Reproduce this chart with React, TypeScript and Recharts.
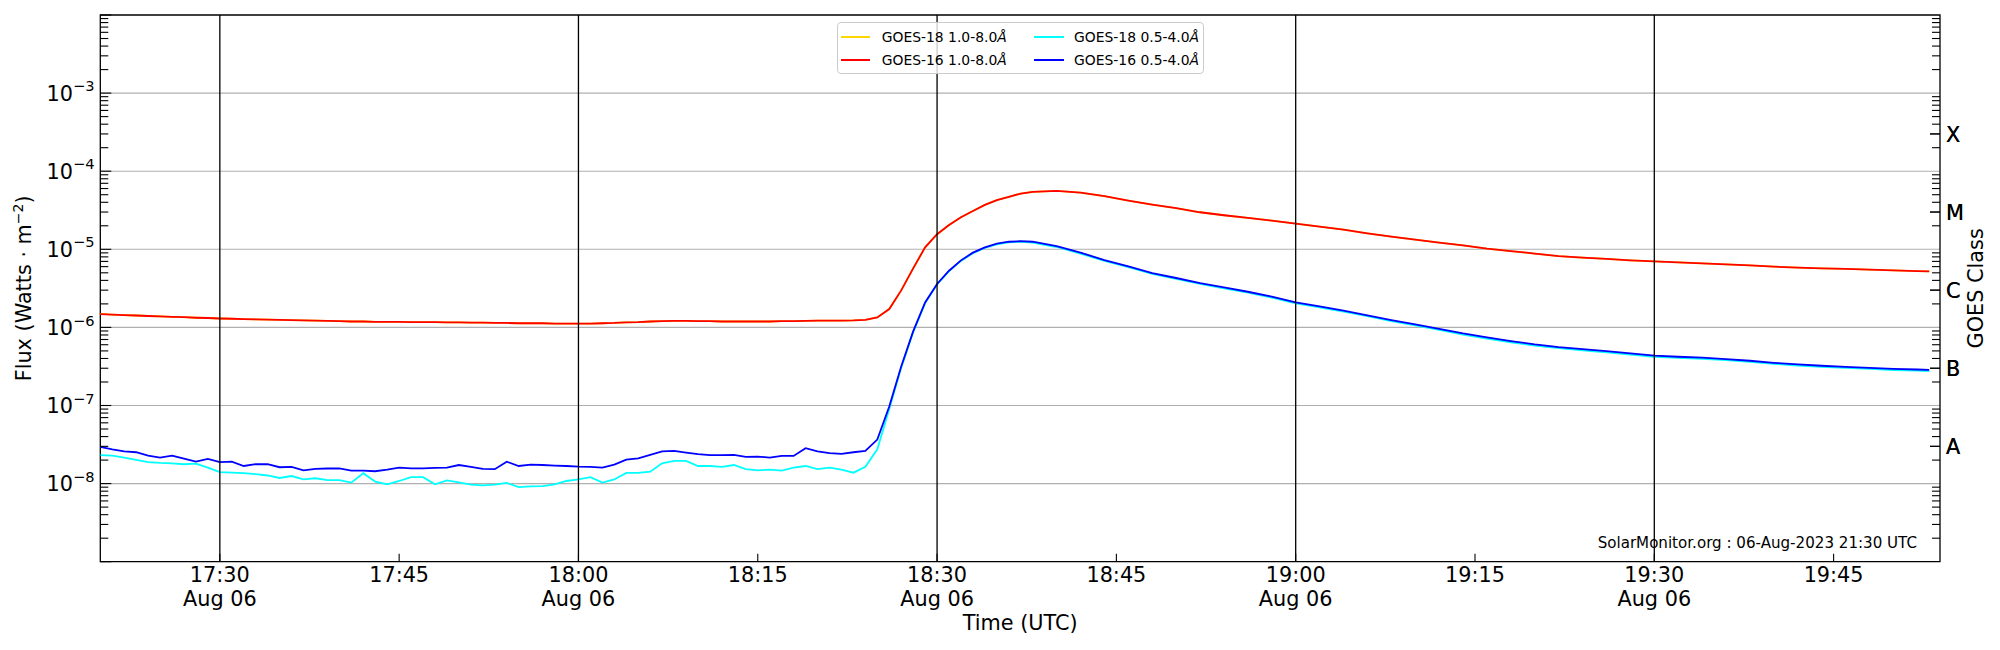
import React from 'react';
import { LineChart, Line, XAxis, YAxis, CartesianGrid, ReferenceLine, ReferenceArea } from 'recharts';

// minutes after 17:20 UTC, 06-Aug-2023
const minutes = [
  0, 1, 2, 3, 4, 5, 6, 7, 8, 9, 10, 11, 12, 13, 14, 15, 16, 17, 18, 19,
  20, 21, 22, 23, 24, 25, 26, 27, 28, 29, 30, 31, 32, 33, 34, 35, 36, 37, 38, 39,
  40, 41, 42, 43, 44, 45, 46, 47, 48, 49, 50, 51, 52, 53, 54, 55, 56, 57, 58, 59,
  60, 61, 62, 63, 64, 65, 66, 67, 68, 69, 70, 71, 72, 73, 74, 75, 76, 77,
  78, 80, 82, 84, 86, 88, 90, 92, 94, 96, 98, 100, 102, 104, 106, 108, 110, 112, 114, 116,
  118, 120, 122, 124, 126, 128, 130, 132, 134, 136, 138, 140, 142, 144, 146, 148, 150, 152, 153,
];

const goes16Long = [
  1.48e-6, 1.46e-6, 1.44e-6, 1.42e-6, 1.40e-6, 1.38e-6, 1.36e-6, 1.35e-6, 1.33e-6, 1.32e-6,
  1.30e-6, 1.29e-6, 1.28e-6, 1.27e-6, 1.26e-6, 1.25e-6, 1.24e-6, 1.23e-6, 1.22e-6, 1.21e-6,
  1.20e-6, 1.19e-6, 1.19e-6, 1.18e-6, 1.18e-6, 1.18e-6, 1.17e-6, 1.17e-6, 1.17e-6, 1.16e-6,
  1.16e-6, 1.15e-6, 1.15e-6, 1.14e-6, 1.14e-6, 1.13e-6, 1.13e-6, 1.13e-6, 1.12e-6, 1.12e-6,
  1.12e-6, 1.12e-6, 1.13e-6, 1.14e-6, 1.16e-6, 1.17e-6, 1.19e-6, 1.20e-6, 1.21e-6, 1.21e-6,
  1.20e-6, 1.20e-6, 1.19e-6, 1.19e-6, 1.19e-6, 1.19e-6, 1.19e-6, 1.20e-6, 1.20e-6, 1.21e-6,
  1.22e-6, 1.22e-6, 1.22e-6, 1.23e-6, 1.25e-6, 1.34e-6, 1.72e-6, 2.98e-6, 5.70e-6, 1.06e-5,
  1.56e-5, 2.05e-5, 2.57e-5, 3.10e-5, 3.70e-5, 4.25e-5, 4.70e-5, 5.18e-5,
  5.43e-5, 5.60e-5, 5.32e-5, 4.79e-5, 4.21e-5, 3.74e-5, 3.36e-5, 2.98e-5, 2.73e-5, 2.52e-5,
  2.33e-5, 2.13e-5, 1.95e-5, 1.79e-5, 1.60e-5, 1.45e-5, 1.33e-5, 1.22e-5, 1.125e-5, 1.02e-5,
  9.5e-6, 8.8e-6, 8.2e-6, 7.82e-6, 7.52e-6, 7.22e-6, 7.02e-6, 6.81e-6, 6.62e-6, 6.43e-6,
  6.24e-6, 6.00e-6, 5.82e-6, 5.70e-6, 5.60e-6, 5.48e-6, 5.38e-6, 5.27e-6, 5.22e-6,
];

const goes18Long = [
  1.49e-6, 1.46e-6, 1.44e-6, 1.42e-6, 1.40e-6, 1.38e-6, 1.36e-6, 1.35e-6, 1.33e-6, 1.32e-6,
  1.30e-6, 1.29e-6, 1.28e-6, 1.27e-6, 1.26e-6, 1.25e-6, 1.24e-6, 1.23e-6, 1.22e-6, 1.21e-6,
  1.20e-6, 1.19e-6, 1.19e-6, 1.18e-6, 1.18e-6, 1.18e-6, 1.17e-6, 1.17e-6, 1.17e-6, 1.16e-6,
  1.16e-6, 1.15e-6, 1.15e-6, 1.14e-6, 1.14e-6, 1.13e-6, 1.13e-6, 1.13e-6, 1.12e-6, 1.12e-6,
  1.12e-6, 1.12e-6, 1.13e-6, 1.14e-6, 1.16e-6, 1.17e-6, 1.19e-6, 1.20e-6, 1.21e-6, 1.21e-6,
  1.20e-6, 1.20e-6, 1.19e-6, 1.19e-6, 1.19e-6, 1.19e-6, 1.19e-6, 1.20e-6, 1.20e-6, 1.21e-6,
  1.22e-6, 1.22e-6, 1.22e-6, 1.23e-6, 1.25e-6, 1.34e-6, 1.72e-6, 2.98e-6, 5.70e-6, 1.06e-5,
  1.56e-5, 2.05e-5, 2.57e-5, 3.10e-5, 3.70e-5, 4.25e-5, 4.70e-5, 5.18e-5,
  5.43e-5, 5.60e-5, 5.32e-5, 4.79e-5, 4.21e-5, 3.74e-5, 3.36e-5, 2.98e-5, 2.73e-5, 2.52e-5,
  2.33e-5, 2.13e-5, 1.95e-5, 1.79e-5, 1.60e-5, 1.45e-5, 1.33e-5, 1.22e-5, 1.125e-5, 1.02e-5,
  9.5e-6, 8.8e-6, 8.2e-6, 7.82e-6, 7.52e-6, 7.22e-6, 7.02e-6, 6.81e-6, 6.62e-6, 6.43e-6,
  6.24e-6, 6.00e-6, 5.82e-6, 5.70e-6, 5.60e-6, 5.48e-6, 5.38e-6, 5.27e-6, 5.22e-6,
];

const goes16Short = [
  2.95e-8, 2.75e-8, 2.59e-8, 2.52e-8, 2.28e-8, 2.15e-8, 2.28e-8, 2.09e-8, 1.91e-8, 2.07e-8,
  1.88e-8, 1.91e-8, 1.68e-8, 1.77e-8, 1.77e-8, 1.62e-8, 1.64e-8, 1.48e-8, 1.54e-8, 1.56e-8,
  1.57e-8, 1.47e-8, 1.47e-8, 1.44e-8, 1.51e-8, 1.60e-8, 1.57e-8, 1.57e-8, 1.59e-8, 1.60e-8,
  1.73e-8, 1.64e-8, 1.54e-8, 1.53e-8, 1.91e-8, 1.68e-8, 1.75e-8, 1.73e-8, 1.70e-8, 1.68e-8,
  1.65e-8, 1.64e-8, 1.60e-8, 1.75e-8, 2.03e-8, 2.11e-8, 2.33e-8, 2.59e-8, 2.62e-8, 2.49e-8,
  2.38e-8, 2.31e-8, 2.31e-8, 2.33e-8, 2.20e-8, 2.22e-8, 2.15e-8, 2.26e-8, 2.26e-8, 2.84e-8,
  2.59e-8, 2.45e-8, 2.40e-8, 2.52e-8, 2.62e-8, 3.66e-8, 9.7e-8, 3.16e-7, 8.89e-7, 2.09e-6,
  3.60e-6, 5.32e-6, 7.22e-6, 9.06e-6, 1.06e-5, 1.18e-5, 1.25e-5, 1.27e-5,
  1.25e-5, 1.10e-5, 9.06e-6, 7.29e-6, 6.05e-6, 4.97e-6, 4.29e-6, 3.70e-6, 3.26e-6, 2.86e-6,
  2.47e-6, 2.09e-6, 1.86e-6, 1.64e-6, 1.43e-6, 1.24e-6, 1.09e-6, 9.6e-7, 8.38e-7, 7.44e-7,
  6.68e-7, 6.05e-7, 5.60e-7, 5.27e-7, 4.97e-7, 4.65e-7, 4.34e-7, 4.21e-7, 4.09e-7, 3.93e-7,
  3.74e-7, 3.52e-7, 3.36e-7, 3.23e-7, 3.13e-7, 3.04e-7, 2.95e-7, 2.89e-7, 2.86e-7,
];

const goes18Short = [
  2.31e-8, 2.28e-8, 2.15e-8, 2.01e-8, 1.88e-8, 1.84e-8, 1.82e-8, 1.77e-8, 1.80e-8, 1.60e-8,
  1.40e-8, 1.38e-8, 1.36e-8, 1.32e-8, 1.27e-8, 1.18e-8, 1.25e-8, 1.13e-8, 1.17e-8, 1.11e-8,
  1.11e-8, 1.03e-8, 1.36e-8, 1.06e-8, 0.98e-8, 1.08e-8, 1.21e-8, 1.21e-8, 0.98e-8, 1.10e-8,
  1.04e-8, 0.97e-8, 0.95e-8, 0.97e-8, 1.02e-8, 0.90e-8, 0.92e-8, 0.93e-8, 0.98e-8, 1.08e-8,
  1.13e-8, 1.21e-8, 1.03e-8, 1.13e-8, 1.37e-8, 1.37e-8, 1.42e-8, 1.82e-8, 1.95e-8, 1.95e-8,
  1.68e-8, 1.68e-8, 1.64e-8, 1.73e-8, 1.53e-8, 1.48e-8, 1.51e-8, 1.47e-8, 1.60e-8, 1.68e-8,
  1.53e-8, 1.60e-8, 1.51e-8, 1.38e-8, 1.64e-8, 2.75e-8, 9.0e-8, 3.05e-7, 8.7e-7, 2.05e-6,
  3.55e-6, 5.25e-6, 7.1e-6, 8.9e-6, 1.04e-5, 1.16e-5, 1.23e-5, 1.25e-5,
  1.22e-5, 1.07e-5, 8.8e-6, 7.1e-6, 5.9e-6, 4.85e-6, 4.18e-6, 3.6e-6, 3.17e-6, 2.78e-6,
  2.40e-6, 2.03e-6, 1.81e-6, 1.59e-6, 1.39e-6, 1.20e-6, 1.06e-6, 9.3e-7, 8.1e-7, 7.2e-7,
  6.45e-7, 5.85e-7, 5.42e-7, 5.1e-7, 4.8e-7, 4.5e-7, 4.2e-7, 4.07e-7, 3.95e-7, 3.8e-7,
  3.62e-7, 3.41e-7, 3.25e-7, 3.12e-7, 3.03e-7, 2.94e-7, 2.85e-7, 2.79e-7, 2.76e-7,
];

const timeTicks = [10, 25, 40, 55, 70, 85, 100, 115, 130, 145];
const timeTickLabels = ['17:30', '17:45', '18:00', '18:15', '18:30', '18:45', '19:00', '19:15', '19:30', '19:45'];
const dateTicks = [10, 40, 70, 100, 130];
const dateLabel = 'Aug 06';
const timeDomain = [0, 153.9];

const fluxDomain = [1e-9, 1e-2];
const fluxDecades = [1e-8, 1e-7, 1e-6, 1e-5, 1e-4, 1e-3];
const fluxExponents = ['−8', '−7', '−6', '−5', '−4', '−3'];
const goesClassValues = [3e-8, 3e-7, 3e-6, 3e-5, 3e-4];
const goesClassLabels = ['A', 'B', 'C', 'M', 'X'];

const legendItems = [
  { name: 'GOES-18 1.0-8.0', color: '#FFD700' },
  { name: 'GOES-16 1.0-8.0', color: '#FF0000' },
  { name: 'GOES-18 0.5-4.0', color: '#00FFFF' },
  { name: 'GOES-16 0.5-4.0', color: '#0000FF' },
];

const stamp = 'SolarMonitor.org : 06-Aug-2023 21:30 UTC';

const data = minutes.map((t, i) => ({
  t,
  g18l: goes18Long[i],
  g16l: goes16Long[i],
  g18s: goes18Short[i],
  g16s: goes16Short[i],
}));

const FONT = '"DejaVu Sans", Verdana, sans-serif';
const TICK_FS = 20.8;

const sameVal = (a: number, b: number) => Math.abs(Math.log10(a) - Math.log10(b)) < 1e-6;

// log-scale major/minor tick positions across the axis range
const leftTickValues: number[] = [];
const rightTickValues: number[] = [];
for (let e = -9; e <= -3; e++) {
  for (let m = 1; m <= 9; m++) {
    const v = Number((m * Math.pow(10, e)).toPrecision(6));
    leftTickValues.push(v);
    if (m !== 1) rightTickValues.push(v);
  }
}
leftTickValues.push(1e-2);

const LeftTick = (props: any) => {
  const { x, y, payload } = props;
  const v = payload.value;
  const idx = fluxDecades.findIndex((d) => sameVal(d, v));
  const isDecade = Math.abs(Math.log10(v) - Math.round(Math.log10(v))) < 1e-6;
  const len = isDecade ? 11 : 8;
  return (
    <g>
      <line x1={x} x2={x + len} y1={y} y2={y} stroke="#000" strokeWidth={1.1} />
      {idx >= 0 && (
        <text x={x - 5.8} y={y + 7.6} textAnchor="end" fontFamily={FONT} fontSize={TICK_FS} fill="#000">
          10
          <tspan dy={-9.5} fontSize={14.6}>{fluxExponents[idx]}</tspan>
        </text>
      )}
    </g>
  );
};

const RightTick = (props: any) => {
  const { x, y, payload } = props;
  const v = payload.value;
  const idx = goesClassValues.findIndex((d) => sameVal(d, v));
  const len = idx >= 0 ? 10 : 8;
  return (
    <g>
      <line x1={x} x2={x - len} y1={y} y2={y} stroke="#000" strokeWidth={1.1} />
      {idx >= 0 && (
        <text x={x + 6} y={y + 7.6} textAnchor="start" fontFamily={FONT} fontSize={TICK_FS} fill="#000">
          {goesClassLabels[idx]}
        </text>
      )}
    </g>
  );
};

const BottomTick = (props: any) => {
  const { x, y, payload } = props;
  const i = timeTicks.indexOf(payload.value);
  return (
    <g>
      <line x1={x} x2={x} y1={y} y2={y - 8} stroke="#000" strokeWidth={1.1} />
      <text x={x} y={y + 20.3} textAnchor="middle" fontFamily={FONT} fontSize={TICK_FS} fill="#000">
        {timeTickLabels[i]}
      </text>
      {dateTicks.includes(payload.value) && (
        <text x={x} y={y + 44} textAnchor="middle" fontFamily={FONT} fontSize={TICK_FS} fill="#000">
          {dateLabel}
        </text>
      )}
    </g>
  );
};

const FluxLabel = (props: any) => {
  const vb = props.viewBox || { x: 0, y: 7, width: 92.3, height: 546.7 };
  const cx = vb.x + 22.6;
  const cy = vb.y + vb.height / 2;
  return (
    <text x={cx} y={cy} transform={`rotate(-90 ${cx} ${cy})`} textAnchor="middle" fontFamily={FONT} fontSize={TICK_FS} fill="#000">
      Flux (Watts · m
      <tspan dy={-7.5} fontSize={14}>−2</tspan>
      <tspan dy={7.5}>)</tspan>
    </text>
  );
};

const ClassLabel = (props: any) => {
  const vb = props.viewBox || { x: 1932, y: 7, width: 52, height: 546.7 };
  const cx = vb.x + 42.6;
  const cy = vb.y + vb.height / 2;
  return (
    <text x={cx} y={cy} transform={`rotate(-90 ${cx} ${cy})`} textAnchor="middle" fontFamily={FONT} fontSize={TICK_FS} fill="#000">
      GOES Class
    </text>
  );
};

const TimeLabel = (props: any) => {
  const vb = props.viewBox || { x: 92.3, y: 553.7, width: 1839.7, height: 80.3 };
  return (
    <text x={vb.x + vb.width / 2} y={vb.y + 68.3} textAnchor="middle" fontFamily={FONT} fontSize={TICK_FS} fill="#000">
      Time (UTC)
    </text>
  );
};

const StampLabel = (props: any) => {
  const vb = props.viewBox;
  if (!vb) return null;
  return (
    <text x={vb.x + vb.width - 23} y={vb.y + vb.height - 13.5} textAnchor="end" fontFamily={FONT} fontSize={15.1} fill="#000">
      {stamp}
    </text>
  );
};

const LegendBox = () => {
  const rows = [15, 37.7];
  const cols = [
    { line: 4, text: 45 },
    { line: 197.6, text: 237.3 },
  ];
  return (
    <div
      style={{
        position: 'absolute',
        left: 828.7,
        top: 14.3,
        width: 367.3,
        height: 51.7,
        boxSizing: 'border-box',
        border: '1px solid #cccccc',
        borderRadius: 4,
        background: 'rgba(255,255,255,0.8)',
        fontFamily: FONT,
        fontSize: 13.9,
        color: '#000',
      }}
    >
      {legendItems.map((it, i) => {
        const c = cols[Math.floor(i / 2)];
        const r = rows[i % 2];
        return (
          <React.Fragment key={it.name}>
            <div style={{ position: 'absolute', left: c.line - 1, top: r - 1.8, width: 29.3, height: 1.6, background: it.color }} />
            <div style={{ position: 'absolute', left: c.text - 1, top: r - 9, height: 16, lineHeight: '16px', whiteSpace: 'nowrap' }}>
              {it.name}
              <span style={{ fontStyle: 'italic' }}>Å</span>
            </div>
          </React.Fragment>
        );
      })}
    </div>
  );
};

export default function App() {
  return (
    <div style={{ position: 'relative', width: 1984, height: 634, fontFamily: FONT }}>
      <LineChart width={1984} height={634} data={data} margin={{ top: 7, right: 0, bottom: 0, left: 0 }}>
        <CartesianGrid horizontal vertical={false} horizontalValues={fluxDecades} stroke="#b0b0b0" strokeWidth={1.1} strokeDasharray="" />
        <XAxis
          dataKey="t"
          type="number"
          domain={timeDomain}
          allowDataOverflow
          ticks={timeTicks}
          interval={0}
          height={80.3}
          axisLine={false}
          tickLine={false}
          tickSize={0}
          tickMargin={0}
          tick={(p: any) => <BottomTick {...p} />}
          label={{ content: (p: any) => <TimeLabel {...p} /> }}
        />
        <YAxis
          type="number"
          scale="log"
          domain={fluxDomain}
          allowDataOverflow
          ticks={leftTickValues}
          interval={0}
          width={92.3}
          axisLine={false}
          tickLine={false}
          tickSize={0}
          tickMargin={0}
          tick={(p: any) => <LeftTick {...p} />}
          label={{ content: (p: any) => <FluxLabel {...p} /> }}
        />
        <YAxis
          yAxisId="right"
          orientation="right"
          type="number"
          scale="log"
          domain={fluxDomain}
          allowDataOverflow
          ticks={[...rightTickValues, ...goesClassValues]}
          interval={0}
          width={52}
          axisLine={false}
          tickLine={false}
          tickSize={0}
          tickMargin={0}
          tick={(p: any) => <RightTick {...p} />}
          label={{ content: (p: any) => <ClassLabel {...p} /> }}
        />
        <Line dataKey="g18l" stroke="#FFD700" strokeWidth={1.8} dot={false} activeDot={false} isAnimationActive={false} type="linear" />
        <Line dataKey="g16l" stroke="#FF0000" strokeWidth={1.8} dot={false} activeDot={false} isAnimationActive={false} type="linear" />
        <Line dataKey="g18s" stroke="#00FFFF" strokeWidth={1.8} dot={false} activeDot={false} isAnimationActive={false} type="linear" />
        <Line dataKey="g16s" stroke="#0000FF" strokeWidth={1.8} dot={false} activeDot={false} isAnimationActive={false} type="linear" />
        {dateTicks.map((t) => (
          <ReferenceLine key={t} x={t} stroke="#000" strokeWidth={1.3} ifOverflow="visible" />
        ))}
        <ReferenceArea
          x1={timeDomain[0]}
          x2={timeDomain[1]}
          y1={fluxDomain[0]}
          y2={fluxDomain[1]}
          fill="none"
          fillOpacity={0}
          stroke="#000"
          strokeWidth={1.3}
          ifOverflow="visible"
          label={{ content: (p: any) => <StampLabel {...p} /> }}
        />
      </LineChart>
      <LegendBox />
    </div>
  );
}
